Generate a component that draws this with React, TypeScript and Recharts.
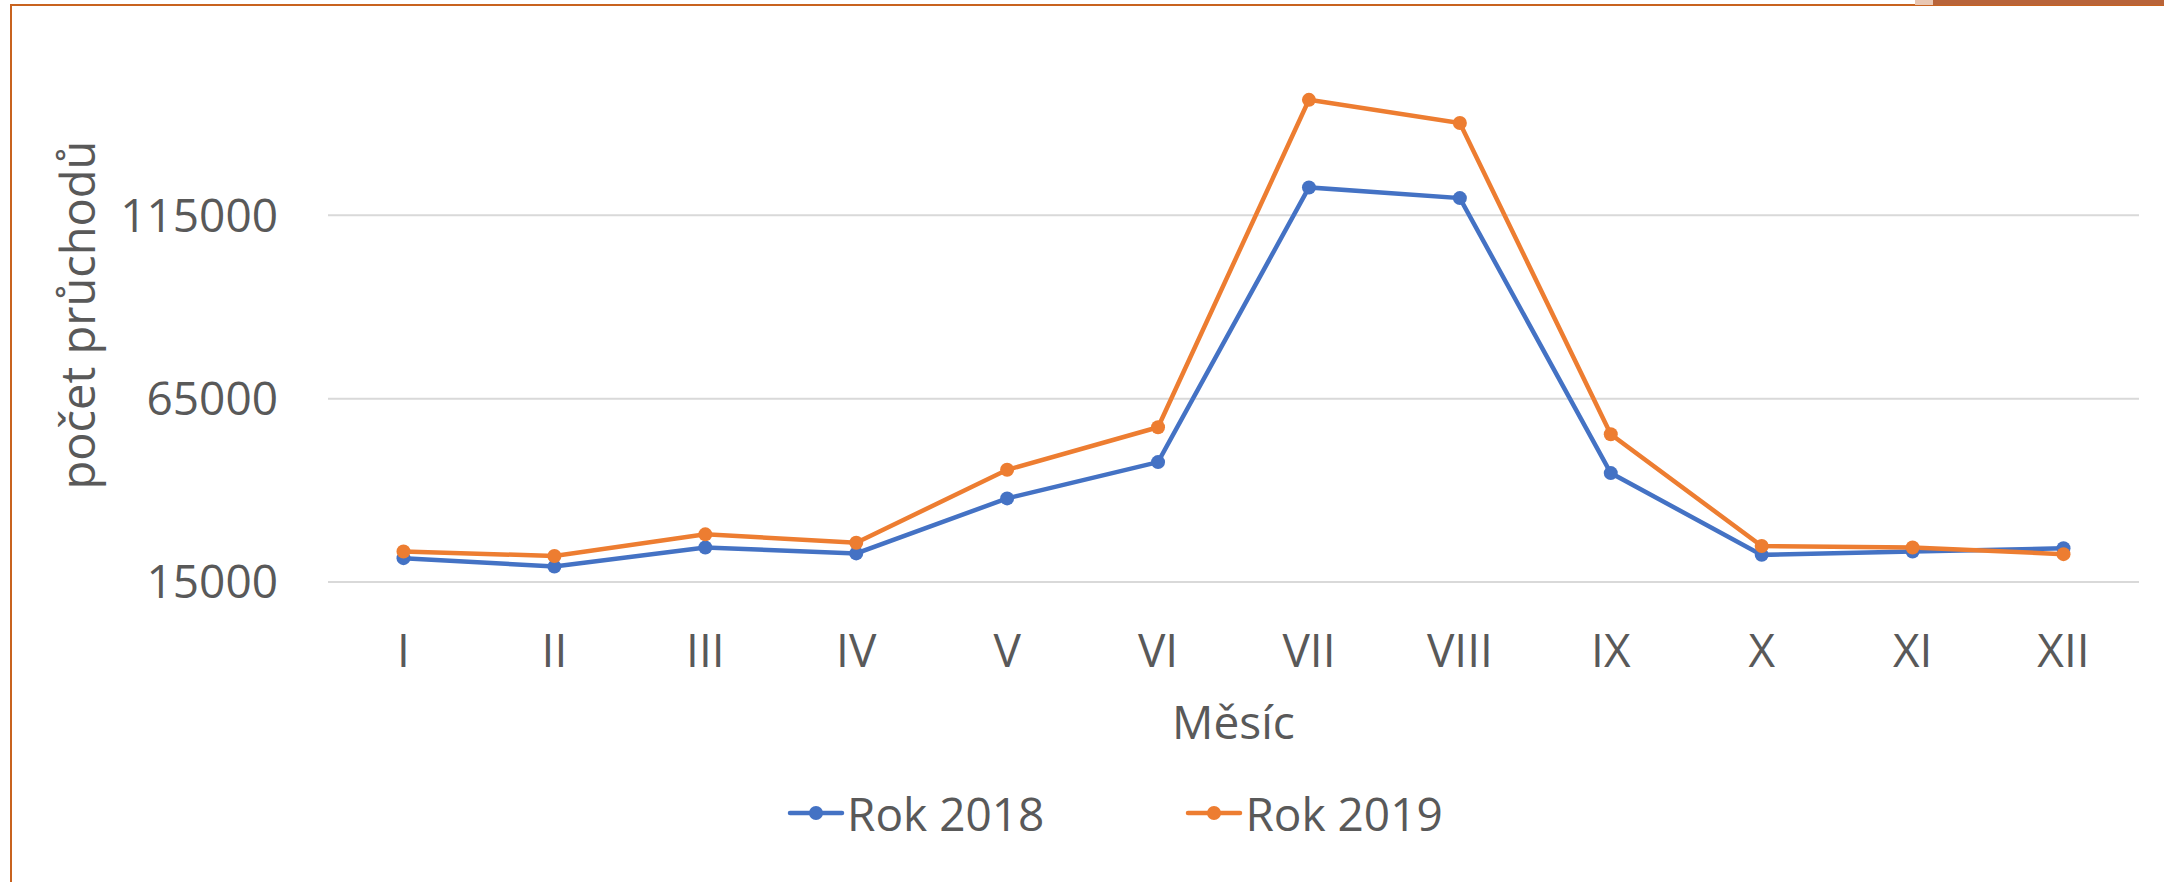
import { CartesianGrid, Legend, Line, LineChart, XAxis, YAxis } from "recharts";

const months = ["I", "II", "III", "IV", "V", "VI", "VII", "VIII", "IX", "X", "XI", "XII"];
const rok2018 = [21500, 19200, 24400, 22800, 37800, 47700, 122600, 119700, 44700, 22400, 23300, 24200];
const rok2019 = [23300, 22100, 28000, 25700, 45600, 57200, 146500, 140200, 55300, 24800, 24400, 22600];
const yTicks = [15000, 65000, 115000];

const data = months.map((m, i) => ({ month: m, r2018: rok2018[i], r2019: rok2019[i] }));

const FONT = "'Open Sans', sans-serif";
const TEXT = "#595959";
const GRID = "#D9D9D9";
const TOP = 32;

const renderLegend = (props: any) => (
  <div style={{ display: "flex", alignItems: "center", height: 46, fontFamily: FONT }}>
    {(props.payload || []).map((entry: any, i: number) => (
      <div
        key={entry.value}
        style={{ display: "flex", alignItems: "center", marginLeft: i === 0 ? 0 : 141 }}
      >
        <svg width={58} height={18}>
          <line x1={3} y1={9} x2={55} y2={9} stroke={entry.color} strokeWidth={4.5} strokeLinecap="round" />
          <circle cx={29} cy={9} r={7} fill={entry.color} />
        </svg>
        <span style={{ marginLeft: 2, fontSize: 46, lineHeight: "46px", color: TEXT }}>{entry.value}</span>
      </div>
    ))}
  </div>
);

// grid line only at the real ticks, not at the top edge of the plot
const gridLine = (p: any) => {
  if (p.y1 <= TOP + 1) return <g key={p.key} />;
  return <line key={p.key} x1={p.x1} y1={p.y1} x2={p.x2} y2={p.y2} stroke={GRID} strokeWidth={2} />;
};

const YTitle = () => (
  <text
    transform="translate(95,315) rotate(-90)"
    textAnchor="middle"
    fill={TEXT}
    fontSize={47}
    fontFamily={FONT}
  >
    počet průchodů
  </text>
);

const App = () => {
  return (
    <div
      style={{
        position: "absolute",
        left: 0,
        top: 0,
        width: 2164,
        height: 882,
        background: "#fff",
        fontFamily: FONT,
        overflow: "hidden",
      }}
    >
      <div
        style={{
          position: "absolute",
          left: 10,
          top: 4,
          width: 2154,
          height: 878,
          borderTop: "2px solid #C8631F",
          borderLeft: "2px solid #C8631F",
        }}
      />
      <div style={{ position: "absolute", left: 1915, top: 0, width: 18, height: 5, background: "#E9C7B3" }} />
      <div style={{ position: "absolute", left: 1933, top: 0, width: 231, height: 5, background: "#B8643A" }} />
      <LineChart
        width={2164}
        height={882}
        data={data}
        margin={{ top: TOP, right: 25, left: 0, bottom: 0 }}
        style={{ position: "absolute", left: 0, top: 0 }}
      >
        <CartesianGrid vertical={false} horizontal={gridLine} />
        <XAxis
          dataKey="month"
          height={300}
          padding={{ left: 75.5, right: 75.5 }}
          axisLine={{ stroke: GRID, strokeWidth: 2 }}
          tickLine={false}
          tickMargin={46}
          tick={{ fill: TEXT, fontSize: 46, fontFamily: FONT }}
          label={{
            value: "Měsíc",
            position: "insideBottom",
            offset: 143,
            fill: TEXT,
            fontSize: 46,
            fontFamily: FONT,
          }}
        />
        <YAxis
          width={328}
          domain={[15000, 165000]}
          ticks={yTicks}
          axisLine={false}
          tickLine={false}
          tickMargin={44}
          tick={{ fill: TEXT, fontSize: 46, fontFamily: FONT }}
          label={{ content: () => <YTitle /> }}
        />
        <Legend
          layout="horizontal"
          verticalAlign="middle"
          align="center"
          content={renderLegend}
          wrapperStyle={{ position: "absolute", left: 787, top: 790, width: "auto", height: 46 }}
        />
        <Line
          dataKey="r2018"
          name="Rok 2018"
          stroke="#4472C4"
          strokeWidth={4.5}
          dot={{ r: 7, fill: "#4472C4", stroke: "none" }}
          activeDot={false}
          isAnimationActive={false}
        />
        <Line
          dataKey="r2019"
          name="Rok 2019"
          stroke="#ED7D31"
          strokeWidth={4.5}
          dot={{ r: 7, fill: "#ED7D31", stroke: "none" }}
          activeDot={false}
          isAnimationActive={false}
        />
      </LineChart>
    </div>
  );
};

export default App;
